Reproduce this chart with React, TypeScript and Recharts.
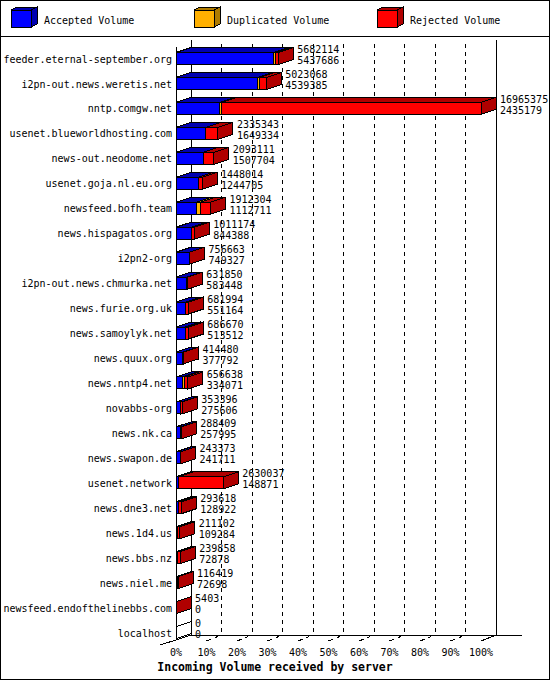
import { BarChart, Bar, XAxis, YAxis, CartesianGrid, Legend, LabelList } from 'recharts';

// innreport style: incoming volume per peer (bytes)
const hosts = [
  'feeder.eternal-september.org', 'i2pn-out.news.weretis.net', 'nntp.comgw.net',
  'usenet.blueworldhosting.com', 'news-out.neodome.net', 'usenet.goja.nl.eu.org',
  'newsfeed.bofh.team', 'news.hispagatos.org', 'i2pn2-org', 'i2pn-out.news.chmurka.net',
  'news.furie.org.uk', 'news.samoylyk.net', 'news.quux.org', 'news.nntp4.net',
  'novabbs-org', 'news.nk.ca', 'news.swapon.de', 'usenet.network', 'news.dne3.net',
  'news.1d4.us', 'news.bbs.nz', 'news.niel.me', 'newsfeed.endofthelinebbs.com', 'localhost',
];
const totalVolume = [
  5682114, 5023068, 16965375, 2335343, 2093111, 1448014, 1912304, 1011174, 756663, 631850,
  681994, 686670, 414480, 656638, 353396, 288409, 243373, 2630037, 293618, 211102,
  239858, 116419, 5403, 0,
];
const acceptedVolume = [
  5437686, 4539385, 2435179, 1649334, 1507704, 1244705, 1112711, 844388, 749327, 583448,
  551164, 513512, 377792, 334071, 275606, 257995, 241711, 148871, 128922, 109284,
  72878, 72698, 0, 0,
];
const duplicatedVolume = [
  110000, 130000, 110000, 0, 0, 0, 230000, 0, 0, 0,
  0, 0, 0, 130000, 0, 0, 0, 0, 0, 0,
  0, 0, 0, 0,
];
const rejectedVolume = [
  134428, 353683, 14420196, 686009, 585407, 203309, 569593, 166786, 7336, 48402,
  130830, 173158, 36688, 192567, 77790, 30414, 1662, 2481166, 164696, 101818,
  166980, 43721, 5403, 0,
];
const tickPercents = [0, 10, 20, 30, 40, 50, 60, 70, 80, 90, 100];

const MAX = Math.max(...totalVolume);
const FONT = '"DejaVu Sans Mono", monospace';
const DX = 15;
const DY = 5;
const PLOT_LEFT = 176;
const PLOT_RIGHT = 481;

const data = hosts.map((name, i) => ({
  name,
  acc: acceptedVolume[i],
  dup: duplicatedVolume[i],
  rej: rejectedVolume[i],
}));

const series = [
  { key: 'acc', name: 'Accepted Volume', front: '#0000ff', dark: '#0000b0' },
  { key: 'dup', name: 'Duplicated Volume', front: '#ffb000', dark: '#b07c00' },
  { key: 'rej', name: 'Rejected Volume', front: '#ff0000', dark: '#b00000' },
];

function box3d(x: number, y: number, w: number, h: number, dx: number, dy: number, front: string, dark: string) {
  return (
    <g shapeRendering="crispEdges">
      <rect x={x} y={y} width={w} height={h} fill={front} stroke="#000" />
      <polygon points={`${x},${y} ${x + dx},${y - dy} ${x + w + dx},${y - dy} ${x + w},${y}`} fill={dark} stroke="#000" />
      <polygon points={`${x + w},${y} ${x + w + dx},${y - dy} ${x + w + dx},${y + h - dy} ${x + w},${y + h}`} fill={dark} stroke="#000" />
    </g>
  );
}

const barShape = (s: any, last: boolean) => (props: any) => {
  const { x, y, width, height } = props;
  if (!(width > 0)) {
    if (!last) return <g />;
    // host with nothing at all: only the outline of the side
    return (
      <polygon
        points={`${x},${y} ${x + DX},${y - DY} ${x + DX},${y + height - DY} ${x},${y + height}`}
        fill="none" stroke="#000" shapeRendering="crispEdges"
      />
    );
  }
  return box3d(x, y, width, height, DX, DY, s.front, s.dark);
};

const gridLine = (props: any) => {
  const { x1, y1, y2 } = props;
  const x = x1;
  const idx = props.index ?? Math.round(((x - PLOT_LEFT) / (PLOT_RIGHT - PLOT_LEFT)) * 10);
  const floorF = y2 - 5.5;
  const floorB = floorF - DY;
  const top = y1 - 6.5;
  if (idx === 0) {
    return (
      <g key={`g-${idx}`} stroke="#000" shapeRendering="crispEdges">
        <line x1={x} y1={y1} x2={x} y2={floorF} />
        <line x1={x + DX} y1={top} x2={x + DX} y2={floorB} />
        <line x1={x + DX} y1={floorB} x2={PLOT_RIGHT + 41} y2={floorB} />
        <line x1={x} y1={floorF} x2={x + DX} y2={floorB} />
        <line x1={x - 16} y1={floorF + 5} x2={x} y2={floorF} />
      </g>
    );
  }
  if (idx === 10) {
    return (
      <g key={`g-${idx}`} stroke="#000" shapeRendering="crispEdges">
        <line x1={x + DX} y1={top} x2={x + DX} y2={floorB} />
        <line x1={x} y1={floorF + 1} x2={x + DX} y2={floorB} />
      </g>
    );
  }
  return (
    <g key={`g-${idx}`} stroke="#000" shapeRendering="crispEdges">
      <line x1={x + DX} y1={top + 4} x2={x + DX} y2={floorB} strokeDasharray="4 4" />
      <line x1={x} y1={floorF + 1} x2={x + DX} y2={floorB} strokeDasharray="5 4 3 10" />
    </g>
  );
};

function LegendBox() {
  return (
    <svg width={550} height={37} style={{ display: 'block' }}>
      {series.map((s, i) => {
        const bx = 11 + i * 183;
        return (
          <g key={s.key}>
            {box3d(bx, 10, 20, 17, 6, 3, s.front, s.dark)}
            <text x={bx + 33} y={24} fontFamily={FONT} fontSize={10} fill="#000">{s.name}</text>
          </g>
        );
      })}
      <line x1={0} y1={36.5} x2={550} y2={36.5} stroke="#000" />
    </svg>
  );
}

const valueLabel = (p: any) => {
  const vb = p.viewBox || p;
  const x = vb.x + vb.width + 19;
  const cy = vb.y + vb.height / 2;
  const i = p.index;
  return (
    <g key={`lbl-${i}`}>
      <text x={x} y={cy - 5.4} fontFamily={FONT} fontSize={10} fill="#000">{totalVolume[i]}</text>
      <text x={x} y={cy + 5.6} fontFamily={FONT} fontSize={10} fill="#000">{acceptedVolume[i]}</text>
    </g>
  );
};

export default function App() {
  return (
    <div style={{ position: 'absolute', left: 0, top: 0, width: 550, height: 680, background: '#fff' }}>
      <BarChart
        width={550}
        height={680}
        data={data}
        layout="vertical"
        margin={{ top: 9.5, right: 550 - PLOT_RIGHT, bottom: 4.5, left: PLOT_LEFT - 170 }}
        barSize={12}
      >
        <Legend
          verticalAlign="top"
          align="left"
          height={37}
          wrapperStyle={{ top: 0, left: 0, width: 550 }}
          content={() => <LegendBox />}
        />
        <CartesianGrid horizontal={false} vertical={gridLine} />
        <XAxis
          type="number"
          domain={[0, MAX]}
          ticks={tickPercents.map((p) => (p / 100) * MAX)}
          height={30}
          axisLine={false}
          tickLine={false}
          tickSize={0}
          tickMargin={0}
          interval={0}
          tick={(p: any) => (
            <text x={p.x} y={p.y + 10.6} textAnchor="middle" fontFamily={FONT} fontSize={10} fill="#000">
              {`${Math.round((p.payload.value / MAX) * 100)}%`}
            </text>
          )}
          label={{
            content: () => (
              <text x={275} y={671} textAnchor="middle" fontFamily={FONT} fontSize={11.5} fontWeight="bold" fill="#000">
                Incoming Volume received by server
              </text>
            ),
          }}
        />
        <YAxis
          type="category"
          dataKey="name"
          width={170}
          axisLine={false}
          tickLine={false}
          tickSize={0}
          tickMargin={4}
          interval={0}
          tick={(p: any) => (
            <text x={p.x} y={p.y + 3.6} textAnchor="end" fontFamily={FONT} fontSize={10} fill="#000">
              {p.payload.value}
            </text>
          )}
        />
        {series.map((s, i) => (
          <Bar
            key={s.key}
            dataKey={s.key}
            name={s.name}
            stackId="vol"
            fill={s.front}
            isAnimationActive={false}
            shape={barShape(s, i === series.length - 1)}
          >
            {i === series.length - 1 && <LabelList dataKey="rej" content={valueLabel} />}
          </Bar>
        ))}
      </BarChart>
      <div
        style={{
          position: 'absolute', left: 0, top: 0, width: 550, height: 680,
          border: '1px solid #000', boxSizing: 'border-box', pointerEvents: 'none',
        }}
      />
    </div>
  );
}
